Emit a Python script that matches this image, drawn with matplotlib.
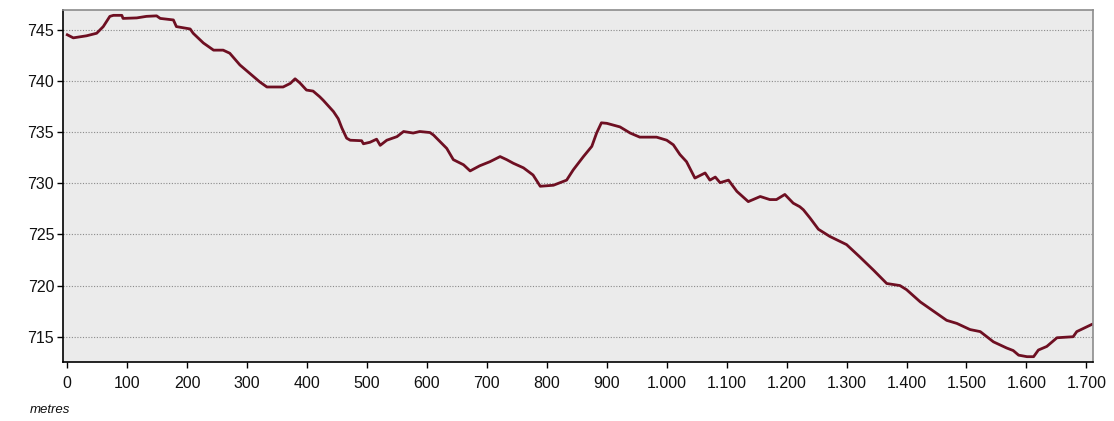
import matplotlib.pyplot as plt

# elevation profile, distance in metres vs altitude
distance = [0, 10, 32, 49, 60, 71, 77, 91, 93, 116, 132, 149, 155, 177, 182, 205, 210,
            227, 244, 260, 271, 288, 305, 321, 333, 360, 372, 380, 388, 399, 410, 421,
            427, 444, 452, 458, 466, 472, 491, 494, 505, 516, 522, 533, 550, 561, 577,
            588, 605, 611, 622, 633, 644, 661, 672, 688, 705, 722, 733, 744, 761, 777,
            789, 811, 822, 833, 844, 861, 875, 883, 891, 900, 922, 939, 955, 983, 1000,
            1011, 1022, 1033, 1047, 1064, 1072, 1081, 1089, 1103, 1117, 1136, 1156,
            1172, 1183, 1197, 1211, 1222, 1228, 1239, 1253, 1272, 1300, 1322, 1345,
            1367, 1389, 1400, 1423, 1445, 1467, 1484, 1506, 1523, 1545, 1567, 1578,
            1587, 1601, 1612, 1620, 1634, 1651, 1678, 1684, 1709]
altitude = [744.5, 744.2, 744.4, 744.65, 745.3, 746.3, 746.4, 746.4, 746.1, 746.15, 746.3,
            746.35, 746.1, 745.95, 745.3, 745.07, 744.65, 743.7, 743.0, 743.0, 742.7,
            741.55, 740.7, 739.9, 739.4, 739.4, 739.75, 740.2, 739.8, 739.1, 739.0,
            738.45, 738.1, 737.0, 736.3, 735.4, 734.4, 734.2, 734.15, 733.85, 734.0,
            734.3, 733.7, 734.2, 734.55, 735.05, 734.9, 735.05, 734.95, 734.7, 734.05,
            733.4, 732.3, 731.8, 731.2, 731.7, 732.1, 732.6, 732.3, 731.95, 731.5,
            730.8, 729.7, 729.8, 730.05, 730.3, 731.3, 732.6, 733.6, 734.9, 735.9,
            735.85, 735.5, 734.9, 734.5, 734.5, 734.2, 733.75, 732.8, 732.1, 730.5,
            731.0, 730.3, 730.6, 730.05, 730.3, 729.2, 728.2, 728.7, 728.4, 728.4,
            728.9, 728.05, 727.7, 727.4, 726.6, 725.5, 724.8, 724.0, 722.8, 721.5,
            720.2, 720.0, 719.6, 718.4, 717.5, 716.6, 716.3, 715.7, 715.5, 714.5,
            713.9, 713.65, 713.2, 713.05, 713.05, 713.7, 714.05, 714.9, 715.0, 715.5,
            716.2]

x_ticks = [0, 100, 200, 300, 400, 500, 600, 700, 800, 900, 1000, 1100, 1200, 1300,
           1400, 1500, 1600, 1700]
x_labels = ['0', '100', '200', '300', '400', '500', '600', '700', '800', '900',
            '1.000', '1.100', '1.200', '1.300', '1.400', '1.500', '1.600', '1.700']
y_ticks = [715, 720, 725, 730, 735, 740, 745]

plt.rcParams['font.family'] = ['Liberation Sans', 'DejaVu Sans']

fig = plt.figure(figsize=(11.14, 4.21), dpi=100)
ax = fig.add_axes([0.0568, 0.1394, 0.9243, 0.8368])
ax.set_facecolor('#ebebeb')

ax.plot(distance, altitude, color='#6e0f22', linewidth=2.0, solid_joinstyle='round')

ax.set_xlim(-6.7, 1711)
ax.set_ylim(712.5, 746.92)
ax.set_xticks(x_ticks)
ax.set_xticklabels(x_labels)
ax.set_yticks(y_ticks)

# dotted horizontal grid only
ax.yaxis.grid(True, linestyle=(0, (1, 1.5)), color='#8a8a8a', linewidth=0.8)
ax.set_axisbelow(True)

for side in ['left', 'bottom']:
    ax.spines[side].set_color('black')
    ax.spines[side].set_linewidth(1.2)
for side in ['top', 'right']:
    ax.spines[side].set_color('#8c8c8c')
    ax.spines[side].set_linewidth(1.2)

ax.tick_params(axis='both', direction='out', length=4.5, width=1, labelsize=11.5,
               colors='black', labelcolor='#111111')
ax.tick_params(axis='x', pad=5)
ax.tick_params(axis='y', pad=2)

fig.text(30 / 1114, 1 - 410 / 421, 'metres', style='italic', fontsize=9.5,
         color='#111111', va='center', ha='left')

plt.savefig('out.png', dpi=100)
